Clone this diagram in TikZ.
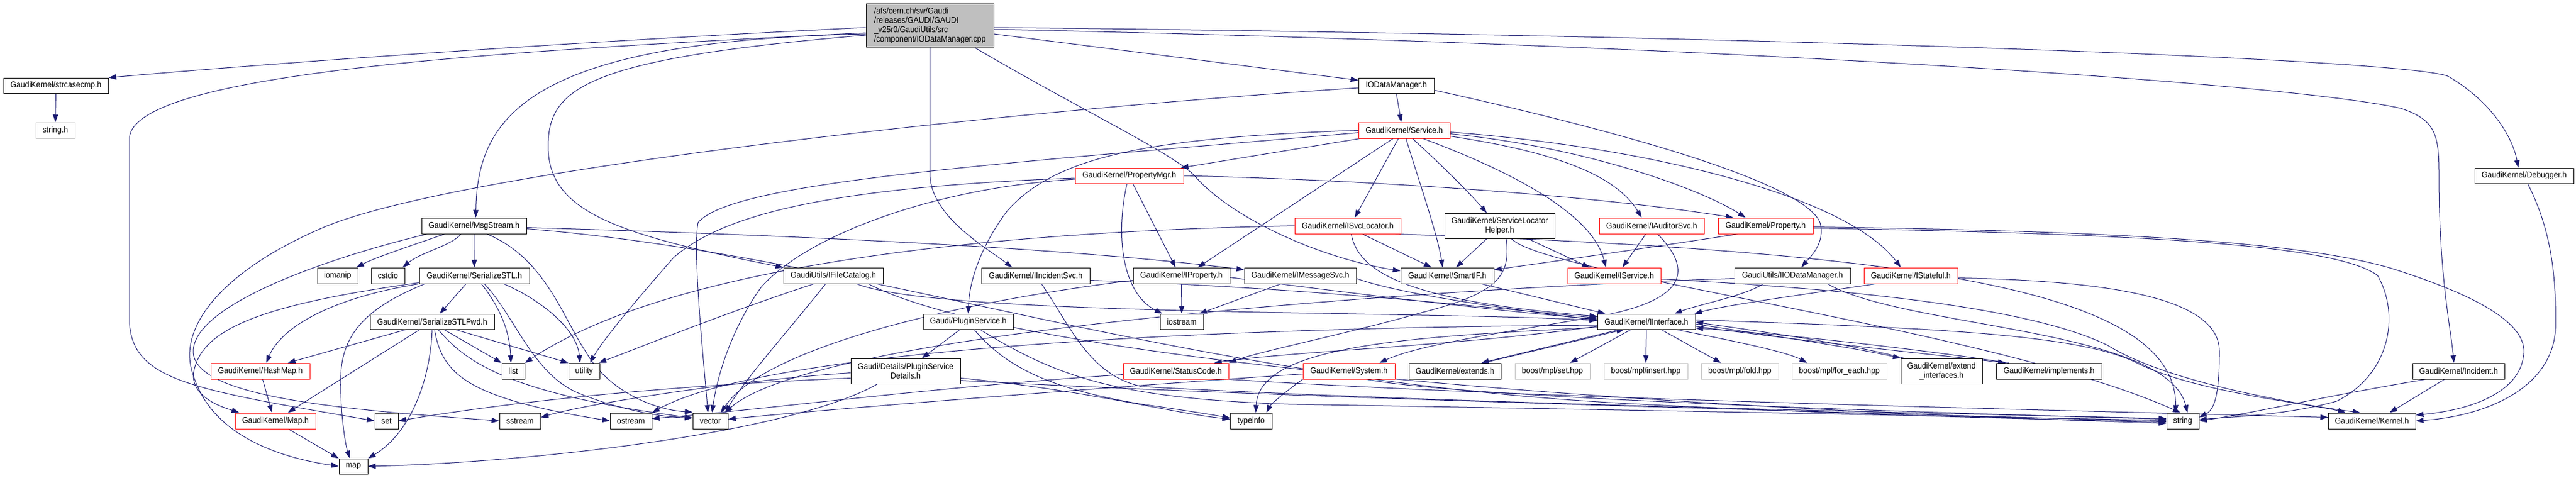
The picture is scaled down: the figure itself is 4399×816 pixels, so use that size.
\documentclass[tikz,border=0pt]{standalone}
\usepackage{fontspec}
\setmainfont{Liberation Sans}[FakeStretch=0.91]
\usetikzlibrary{arrows.meta}
\pgfdeclarelayer{back}
\pgfdeclarelayer{bg}
\pgfsetlayers{back,bg,main}
\definecolor{edgec}{RGB}{25,25,112}
\definecolor{grayf}{RGB}{191,191,191}
\begin{document}
\begin{tikzpicture}[x=1pt,y=-1pt,
  nb/.style={draw=black,line width=1pt,fill=white,inner sep=0pt,align=center,font=\fontsize{14.5pt}{16pt}\selectfont},
  rb/.style={nb,draw=red},
  gb/.style={nb,draw=grayf},
  e/.style={draw=edgec,line width=1pt,-{Triangle[length=13pt,width=9pt]}}]
\begin{pgfonlayer}{back}
\fill[white] (0,0) rectangle (4399,816);
\end{pgfonlayer}
\useasboundingbox (0,0) rectangle (4399,816);
% row 0
\node[nb,fill=grayf,minimum width=218pt,minimum height=74pt,align=left] (cpp) at (1588,44) {/afs/cern.ch/sw/Gaudi\\/releases/GAUDI/GAUDI\\\_v25r0/GaudiUtils/src\\/component/IODataManager.cpp};
% row 1
\node[nb,minimum width=179pt,minimum height=26pt] (strcasecmp) at (95.5,146) {GaudiKernel/strcasecmp.h};
\node[nb,minimum width=129pt,minimum height=26pt] (iodmh) at (2384.5,146) {IODataManager.h};
% row 2
\node[gb,minimum width=67pt,minimum height=27pt] (stringh) at (94.5,222.5) {string.h};
\node[rb,minimum width=156pt,minimum height=27pt] (service) at (2398,222.5) {GaudiKernel/Service.h};
% row 3
\node[rb,minimum width=185pt,minimum height=26pt] (propmgr) at (1928.5,300) {GaudiKernel/PropertyMgr.h};
\node[nb,minimum width=169pt,minimum height=26pt] (debugger) at (4310.5,300) {GaudiKernel/Debugger.h};
% row 4
\node[nb,minimum width=179pt,minimum height=27pt] (msgstream) at (809.5,385.5) {GaudiKernel/MsgStream.h};
\node[rb,minimum width=181pt,minimum height=27pt] (isvcloc) at (2301.5,385.5) {GaudiKernel/ISvcLocator.h};
\node[nb,minimum width=188pt,minimum height=43pt] (slhelper) at (2561,385.5) {GaudiKernel/ServiceLocator\\Helper.h};
\node[rb,minimum width=179pt,minimum height=27pt] (iauditor) at (2820.5,385.5) {GaudiKernel/IAuditorSvc.h};
\node[rb,minimum width=162pt,minimum height=27pt] (property) at (3015,385.5) {GaudiKernel/Property.h};
% row 5
\node[nb,minimum width=69pt,minimum height=27pt] (iomanip) at (576.5,470.5) {iomanip};
\node[nb,minimum width=57pt,minimum height=27pt] (cstdio) at (662.5,470.5) {cstdio};
\node[nb,minimum width=188pt,minimum height=27pt] (serstl) at (810,470.5) {GaudiKernel/SerializeSTL.h};
\node[nb,minimum width=170pt,minimum height=27pt] (ifilecat) at (1423,470.5) {GaudiUtils/IFileCatalog.h};
\node[nb,minimum width=185pt,minimum height=27pt] (iincsvc) at (1768.5,470.5) {GaudiKernel/IIncidentSvc.h};
\node[nb,minimum width=165pt,minimum height=27pt] (iproperty) at (2017.5,470.5) {GaudiKernel/IProperty.h};
\node[nb,minimum width=191pt,minimum height=27pt] (imsgsvc) at (2220.5,470.5) {GaudiKernel/IMessageSvc.h};
\node[nb,minimum width=159pt,minimum height=27pt] (smartif) at (2471.5,470.5) {GaudiKernel/SmartIF.h};
\node[rb,minimum width=159pt,minimum height=27pt] (iservice) at (2756.5,470.5) {GaudiKernel/IService.h};
\node[nb,minimum width=198pt,minimum height=27pt] (iiodm) at (3061,470.5) {GaudiUtils/IIODataManager.h};
\node[rb,minimum width=160pt,minimum height=27pt] (istateful) at (3263,470.5) {GaudiKernel/IStateful.h};
% row 6
\node[nb,minimum width=212pt,minimum height=26pt] (serfwd) at (738,549) {GaudiKernel/SerializeSTLFwd.h};
\node[nb,minimum width=153pt,minimum height=26pt] (pluginsvc) at (1653.5,549) {Gaudi/PluginService.h};
\node[nb,minimum width=74pt,minimum height=26pt] (iostream) at (2018,549) {iostream};
\node[nb,minimum width=167pt,minimum height=26pt] (iinterface) at (2811.5,549) {GaudiKernel/IInterface.h};
% row 7
\node[rb,minimum width=169pt,minimum height=27pt] (hashmap) at (444.5,633.5) {GaudiKernel/HashMap.h};
\node[nb,minimum width=39pt,minimum height=27pt] (list) at (876.5,633.5) {list};
\node[nb,minimum width=53pt,minimum height=27pt] (utility) at (997.5,633.5) {utility};
\node[nb,minimum width=187pt,minimum height=43pt] (psdetails) at (1546.5,633.5) {Gaudi/Details/PluginService\\Details.h};
\node[rb,minimum width=180pt,minimum height=27pt] (statuscode) at (2008,633.5) {GaudiKernel/StatusCode.h};
\node[rb,minimum width=157pt,minimum height=27pt] (system) at (2303.5,633.5) {GaudiKernel/System.h};
\node[nb,minimum width=157pt,minimum height=27pt] (extends) at (2484.5,633.5) {GaudiKernel/extends.h};
\node[gb,minimum width=128pt,minimum height=27pt] (bset) at (2651,633.5) {boost/mpl/set.hpp};
\node[gb,minimum width=143pt,minimum height=27pt] (binsert) at (2810.5,633.5) {boost/mpl/insert.hpp};
\node[gb,minimum width=132pt,minimum height=27pt] (bfold) at (2971,633.5) {boost/mpl/fold.hpp};
\node[gb,minimum width=162pt,minimum height=27pt] (bforeach) at (3141,633.5) {boost/mpl/for\_each.hpp};
\node[nb,minimum width=139pt,minimum height=43pt] (extintf) at (3315.5,633.5) {GaudiKernel/extend\\\_interfaces.h};
\node[nb,minimum width=180pt,minimum height=27pt] (implements) at (3499,633.5) {GaudiKernel/implements.h};
\node[nb,minimum width=157pt,minimum height=27pt] (incident) at (4198.5,633.5) {GaudiKernel/Incident.h};
% row 8
\node[rb,minimum width=137pt,minimum height=27pt] (maph) at (470.5,718.5) {GaudiKernel/Map.h};
\node[nb,minimum width=40pt,minimum height=27pt] (set) at (660,718.5) {set};
\node[nb,minimum width=70pt,minimum height=27pt] (sstream) at (888,718.5) {sstream};
\node[nb,minimum width=71pt,minimum height=27pt] (ostream) at (1077.5,718.5) {ostream};
\node[nb,minimum width=60pt,minimum height=27pt] (vector) at (1213,718.5) {vector};
\node[nb,minimum width=71pt,minimum height=27pt] (typeinfo) at (2136.5,718.5) {typeinfo};
\node[nb,minimum width=55pt,minimum height=27pt] (string) at (3727.5,718.5) {string};
\node[nb,minimum width=149pt,minimum height=27pt] (kernel) at (4050.5,718.5) {GaudiKernel/Kernel.h};
% row 9
\node[nb,minimum width=49pt,minimum height=26pt] (map) at (603.5,796) {map};

\begin{pgfonlayer}{bg}
% cpp
\draw[e] ([yshift=-3]cpp.west) .. controls (1000,70) and (500,105) .. (strcasecmp.north east);
\draw[e] ([yshift=-12]cpp.west) .. controls (900,85) and (230,120) .. (221,235) -- (221,550) .. controls (226,650) and (330,665) .. (set.west);
\draw[e] ([yshift=-14]cpp.west) .. controls (900,70) and (815,200) .. ([xshift=3]msgstream.north);
\draw[e] ([yshift=-16]cpp.west) .. controls (1000,100) and (936,150) .. (936,250) .. controls (936,360) and (1050,400) .. (ifilecat.north west);
\draw[e] (cpp.south) -- (1588,300) .. controls (1592,370) and (1680,420) .. ([xshift=-40]iincsvc.north);
\draw[e] (cpp.-26) .. controls (1850,190) and (2000,260) .. (2040,300) .. controls (2100,370) and (2250,440) .. ([yshift=8]smartif.west);
\draw[e] ([yshift=-14]cpp.east) -- ([yshift=9]iodmh.west);
\draw[e] ([yshift=-3]cpp.east) .. controls (3000,60) and (4100,100) .. (4180,130) .. controls (4250,170) and (4290,230) .. ([xshift=-10]debugger.north);
\draw[e] ([yshift=-6]cpp.east) .. controls (2900,75) and (3900,140) .. (4100,185) .. controls (4160,205) and (4165,230) .. (4165,300) .. controls (4165,470) and (4185,560) .. ([xshift=-8]incident.north);
% strcasecmp
\draw[e] (strcasecmp.south) -- (stringh.north);
% IODataManager.h
\draw[e] (iodmh.south) -- ([xshift=-5]service.north);
\draw[e] ([yshift=-8]iodmh.east) .. controls (2750,220) and (3080,310) .. (3108,380) .. controls (3118,415) and (3090,440) .. ([xshift=15]iiodm.north);
\draw[e] ([yshift=-4]iodmh.west) .. controls (1700,190) and (800,290) .. (560,385) .. controls (380,460) and (300,560) .. (330,640) .. controls (360,740) and (470,780) .. (map.west);
% Service.h
\draw[e] ([xshift=3]service.south west) -- ([xshift=-5]propmgr.north east);
\draw[e] ([yshift=-4]service.west) .. controls (1700,280) and (1250,310) .. (1192,380) .. controls (1183,430) and (1200,600) .. ([xshift=-4]vector.north);
\draw[e] (service.west) .. controls (1950,235) and (1800,270) .. (1720,360) .. controls (1675,420) and (1655,480) .. (pluginsvc.north);
\draw[e] ([xshift=-10]service.south) -- ([xshift=12]isvcloc.north);
\draw[e] ([xshift=-19]service.south) -- ([xshift=28]iproperty.north);
\draw[e] ([xshift=3]service.south) .. controls (2420,300) and (2455,400) .. ([xshift=-8]smartif.north);
\draw[e] ([xshift=14]service.south) .. controls (2460,280) and (2510,330) .. ([xshift=-22]slhelper.north);
\draw[e] ([xshift=32]service.south) .. controls (2600,300) and (2720,370) .. ([xshift=-14]iservice.north);
\draw[e] ([yshift=-10]service.east) .. controls (2660,260) and (2760,300) .. ([xshift=-17]iauditor.north);
\draw[e] ([yshift=-6]service.east) .. controls (2700,250) and (2900,320) .. ([xshift=-34]property.north);
\draw[e] ([yshift=-3]service.east) .. controls (2800,250) and (3150,330) .. ([xshift=-17]istateful.north);
% PropertyMgr.h
\draw[e] (propmgr.east) .. controls (2300,306) and (2700,330) .. ([xshift=-55]property.north);
\draw[e] ([xshift=6]propmgr.south) -- ([xshift=-10]iproperty.north);
\draw[e] ([xshift=-4]propmgr.south) .. controls (1905,400) and (1915,500) .. ([xshift=-33]iostream.north);
\draw[e] ([yshift=-4]propmgr.west) .. controls (1400,320) and (1230,370) .. (1150,440) .. controls (1080,520) and (1030,580) .. ([xshift=10]utility.north);
\draw[e] ([yshift=-6]propmgr.west) .. controls (1600,320) and (1380,400) .. (1300,490) .. controls (1250,560) and (1225,640) .. ([xshift=3]vector.north);
% ISvcLocator.h
\draw[e] ([xshift=6]isvcloc.south) .. controls (2320,470) and (2420,515) .. ([yshift=9]iinterface.west);
\draw[e] ([xshift=25]isvcloc.south) -- ([xshift=-27]smartif.north);
\draw[e] (isvcloc.west) .. controls (1700,395) and (1150,450) .. (list.north east);
\draw[e] ([xshift=-10]isvcloc.south east) .. controls (3300,430) and (3715,500) .. ([xshift=-12]string.north);
% ServiceLocatorHelper.h
\draw[e] ([xshift=-22]slhelper.south) -- ([xshift=15]smartif.north);
\draw[e] ([xshift=48]slhelper.south) -- ([xshift=-42]iservice.north);
\draw[e] ([xshift=11]slhelper.south) .. controls (2580,470) and (2560,500) .. (2430,533) .. controls (2300,570) and (2150,600) .. (statuscode.north east);
\draw[e] ([xshift=20]slhelper.south) .. controls (2640,470) and (3400,560) .. ([xshift=-4]string.north);
% IAuditorSvc.h
\draw[e] ([xshift=-10]iauditor.south) -- ([xshift=14]iservice.north);
\draw[e] ([xshift=10]iauditor.south) .. controls (2900,470) and (2870,520) .. (2700,545) .. controls (2550,570) and (2420,590) .. ([xshift=52]system.north);
% Property.h
\draw[e] ([xshift=-47]property.south) .. controls (2900,410) and (2700,440) .. ([yshift=10]smartif.east);
\draw[e] ([yshift=-2]property.east) .. controls (3700,395) and (3950,420) .. (4080,457) .. controls (4250,510) and (4320,560) .. (4309,610) .. controls (4300,670) and (4220,700) .. ([yshift=10]kernel.east);
\draw[e] ([yshift=-4]property.east) .. controls (3700,400) and (3990,420) .. (4060,470) .. controls (4100,540) and (4080,640) .. (3990,685) .. controls (3900,710) and (3800,712) .. ([yshift=2]string.east);
% MsgStream.h
\draw[e] ([xshift=-50]msgstream.south) .. controls (700,420) and (640,440) .. ([xshift=32]iomanip.north);
\draw[e] ([xshift=-22]msgstream.south) .. controls (770,420) and (720,430) .. ([xshift=25]cstdio.north);
\draw[e] (msgstream.south) -- (serstl.north);
\draw[e] ([xshift=22]msgstream.south) .. controls (930,440) and (960,540) .. (1000,600) .. controls (1040,670) and (1120,700) .. ([yshift=15]vector.west);
\draw[e] ([yshift=-3]msgstream.east) .. controls (1300,400) and (1800,420) .. ([yshift=10]imsgsvc.west);
\draw[e] ([yshift=-5]msgstream.east) .. controls (1500,440) and (2000,650) .. (2800,690) .. controls (3200,710) and (3500,716) .. ([yshift=-2]string.west);
\draw[e] ([xshift=-80]msgstream.south) .. controls (560,440) and (330,520) .. (330,600) .. controls (330,680) and (600,700) .. (sstream.west);
% SerializeSTL.h
\draw[e] ([xshift=-14]serstl.south) -- ([xshift=13]serfwd.north);
\draw[e] ([xshift=12]serstl.south) .. controls (850,520) and (870,560) .. ([xshift=-4]list.north);
\draw[e] ([xshift=50]serstl.south) .. controls (920,510) and (985,560) .. ([xshift=-7]utility.north);
\draw[e] ([xshift=17]serstl.south) .. controls (880,540) and (910,640) .. (990,672) .. controls (1060,700) and (1130,712) .. ([yshift=5]vector.west);
\draw[e] (serstl.south west) .. controls (560,510) and (480,560) .. ([xshift=10]hashmap.north);
\draw[e] ([yshift=2]serstl.south west) .. controls (450,520) and (340,560) .. (330,640) .. controls (330,680) and (380,695) .. ([xshift=-62]maph.north);
\draw[e] ([xshift=10]serstl.south west) .. controls (640,520) and (585,560) .. (582,640) .. controls (580,700) and (590,760) .. ([xshift=-6]map.north);
% SerializeSTLFwd.h
\draw[e] ([xshift=-44]serfwd.south) -- ([xshift=-38]hashmap.north east);
\draw[e] ([xshift=-21]serfwd.south) -- ([xshift=-48]maph.north east);
\draw[e] (serfwd.south) .. controls (735,650) and (700,740) .. (map.north east);
\draw[e] ([xshift=20]serfwd.south) -- (list.north west);
\draw[e] ([xshift=39]serfwd.south) -- (utility.north west);
\draw[e] ([xshift=4]serfwd.south) .. controls (755,640) and (800,680) .. (ostream.west);
\draw[e] ([xshift=10]serfwd.south) .. controls (790,610) and (850,670) .. ([yshift=5]vector.west);
% HashMap / Map
\draw[e] ([xshift=4]hashmap.south) -- ([xshift=-6]maph.north);
\draw[e] ([xshift=22]maph.south) -- (map.north west);
% IFileCatalog.h
\draw[e] ([xshift=-33]ifilecat.south) .. controls (1250,530) and (1100,590) .. ([xshift=-2]utility.north east);
\draw[e] ([xshift=-13]ifilecat.south) .. controls (1350,560) and (1270,650) .. ([xshift=-5]vector.north east);
\draw[e] ([xshift=40]ifilecat.south) .. controls (1600,540) and (2400,530) .. ([yshift=2]iinterface.west);
\draw[e] ([xshift=60]ifilecat.south) .. controls (1700,600) and (2600,690) .. ([yshift=-4]string.west);
% IIncidentSvc.h
\draw[e] ([yshift=-8]iincsvc.east) .. controls (2200,490) and (2500,520) .. ([yshift=6]iinterface.west);
\draw[e] ([xshift=10]iincsvc.south) .. controls (1830,560) and (1860,640) .. (1950,660) .. controls (2500,690) and (3300,705) .. ([yshift=4]string.west);
% IProperty.h
\draw[e] (iproperty.south) -- (iostream.north);
\draw[e] ([yshift=-3]iproperty.east) .. controls (2300,500) and (2550,530) .. ([yshift=4]iinterface.west);
\draw[e] ([yshift=-8]iproperty.west) .. controls (1600,520) and (1300,600) .. ([xshift=18]vector.north);
% IMessageSvc.h
\draw[e] ([xshift=-33]imsgsvc.south) -- ([xshift=30]iostream.north);
\draw[e] ([yshift=-5]imsgsvc.east) .. controls (2400,505) and (2600,530) .. ([yshift=2]iinterface.west);
% SmartIF.h
\draw[e] ([xshift=58]smartif.south) -- ([xshift=-70]iinterface.north);
% IService.h
\draw[e] ([yshift=-6]iservice.east) .. controls (3200,495) and (3480,530) .. (3600,590) .. controls (3680,640) and (3850,680) .. ([xshift=-20]kernel.north);
% IStateful.h
\draw[e] ([xshift=-60]istateful.south) .. controls (3100,500) and (2950,520) .. ([xshift=-2]iinterface.north east);
\draw[e] ([yshift=-4]istateful.east) .. controls (3650,480) and (3790,520) .. (3790,600) .. controls (3790,680) and (3780,700) .. ([yshift=6]string.east);
% IIODataManager.h
\draw[e] ([xshift=-50]iiodm.south) .. controls (2980,505) and (2900,520) .. ([xshift=48]iinterface.north);
\draw[e] ([xshift=60]iiodm.south) .. controls (3250,560) and (3700,560) .. ([xshift=8]string.north);
\draw[e] ([yshift=-5]iiodm.west) .. controls (2500,490) and (1400,560) .. ([xshift=25]vector.north);
% IInterface.h
\draw[e] ([yshift=-8]iinterface.west) .. controls (2500,590) and (2200,600) .. ([xshift=-25]statuscode.north east);
\draw[e] ([xshift=-45]iinterface.south) -- ([xshift=45]extends.north);
\draw[e] ([xshift=49]extends.north) -- ([xshift=-38]iinterface.south);
\draw[e] ([xshift=-26]iinterface.south) -- ([xshift=30]bset.north);
\draw[e] (iinterface.south) -- (binsert.north);
\draw[e] ([xshift=25]iinterface.south) -- ([xshift=-32]bfold.north);
\draw[e] ([xshift=50]iinterface.south) .. controls (2950,580) and (3050,600) .. ([xshift=-55]bforeach.north);
\draw[e] ([yshift=-4]iinterface.east) .. controls (3000,570) and (3150,590) .. (extintf.north west);
\draw[e] ([xshift=6]extintf.north west) .. controls (3150,585) and (3000,565) .. ([yshift=-1]iinterface.east);
\draw[e] ([yshift=-8]iinterface.east) .. controls (3100,585) and (3300,605) .. ([xshift=-74]implements.north);
\draw[e] ([xshift=-68]implements.north) .. controls (3300,600) and (3100,575) .. ([yshift=-11]iinterface.east);
\draw[e] ([yshift=-10]iinterface.west) .. controls (2400,575) and (2150,590) .. ([xshift=8]typeinfo.north);
\draw[e] ([yshift=-6]iinterface.west) .. controls (2000,560) and (1300,600) .. (ostream.north east);
\draw[e] ([yshift=3]iinterface.east) .. controls (3300,560) and (3550,570) .. (3650,620) .. controls (3750,670) and (3950,690) .. ([xshift=-45]kernel.north);
% StatusCode.h
\draw[e] ([yshift=-6]statuscode.west) .. controls (1600,660) and (1300,700) .. ([yshift=4]ostream.east);
\draw[e] (statuscode.south east) .. controls (2600,680) and (3500,700) .. ([yshift=6]kernel.west);
% System.h
\draw[e] ([yshift=-5]system.west) .. controls (1900,660) and (1400,700) .. ([yshift=3]vector.east);
\draw[e] (system.south west) .. controls (2200,665) and (2170,690) .. ([xshift=26]typeinfo.north);
\draw[e] ([xshift=30]system.south) .. controls (2500,680) and (3300,705) .. ([yshift=3]string.west);
% PluginService.h
\draw[e] ([xshift=-14]pluginsvc.south) -- ([xshift=28]psdetails.north);
\draw[e] ([xshift=10]pluginsvc.south) .. controls (1720,630) and (1800,665) .. (1950,690) .. controls (2020,700) and (2070,708) .. ([yshift=5]typeinfo.west);
\draw[e] ([xshift=20]pluginsvc.south) .. controls (1800,640) and (1900,680) .. (2200,690) .. controls (2800,700) and (3400,712) .. ([yshift=1]string.west);
% PluginServiceDetails.h
\draw[e] ([xshift=-48]psdetails.south) .. controls (1350,740) and (900,790) .. (map.east);
\draw[e] ([yshift=-12]psdetails.west) .. controls (1100,660) and (850,690) .. (set.east);
\draw[e] ([yshift=-3]psdetails.west) .. controls (1250,650) and (1000,690) .. ([yshift=6]sstream.east);
\draw[e] ([yshift=-12]psdetails.east) .. controls (1850,665) and (2000,705) .. ([yshift=3]typeinfo.west);
\draw[e] ([yshift=-16]psdetails.east) .. controls (2200,680) and (3200,705) .. ([yshift=-1]string.west);
% Incident.h, Debugger.h
\draw[e] ([xshift=-56]incident.south) .. controls (3950,680) and (3850,705) .. (string.east);
\draw[e] ([xshift=-24]incident.south) -- ([xshift=30]kernel.north);
\draw[e] ([xshift=6]debugger.south) .. controls (4350,380) and (4366,450) .. (4364,560) .. controls (4360,660) and (4250,710) .. (kernel.east);
\end{pgfonlayer}
\end{tikzpicture}
\end{document}
